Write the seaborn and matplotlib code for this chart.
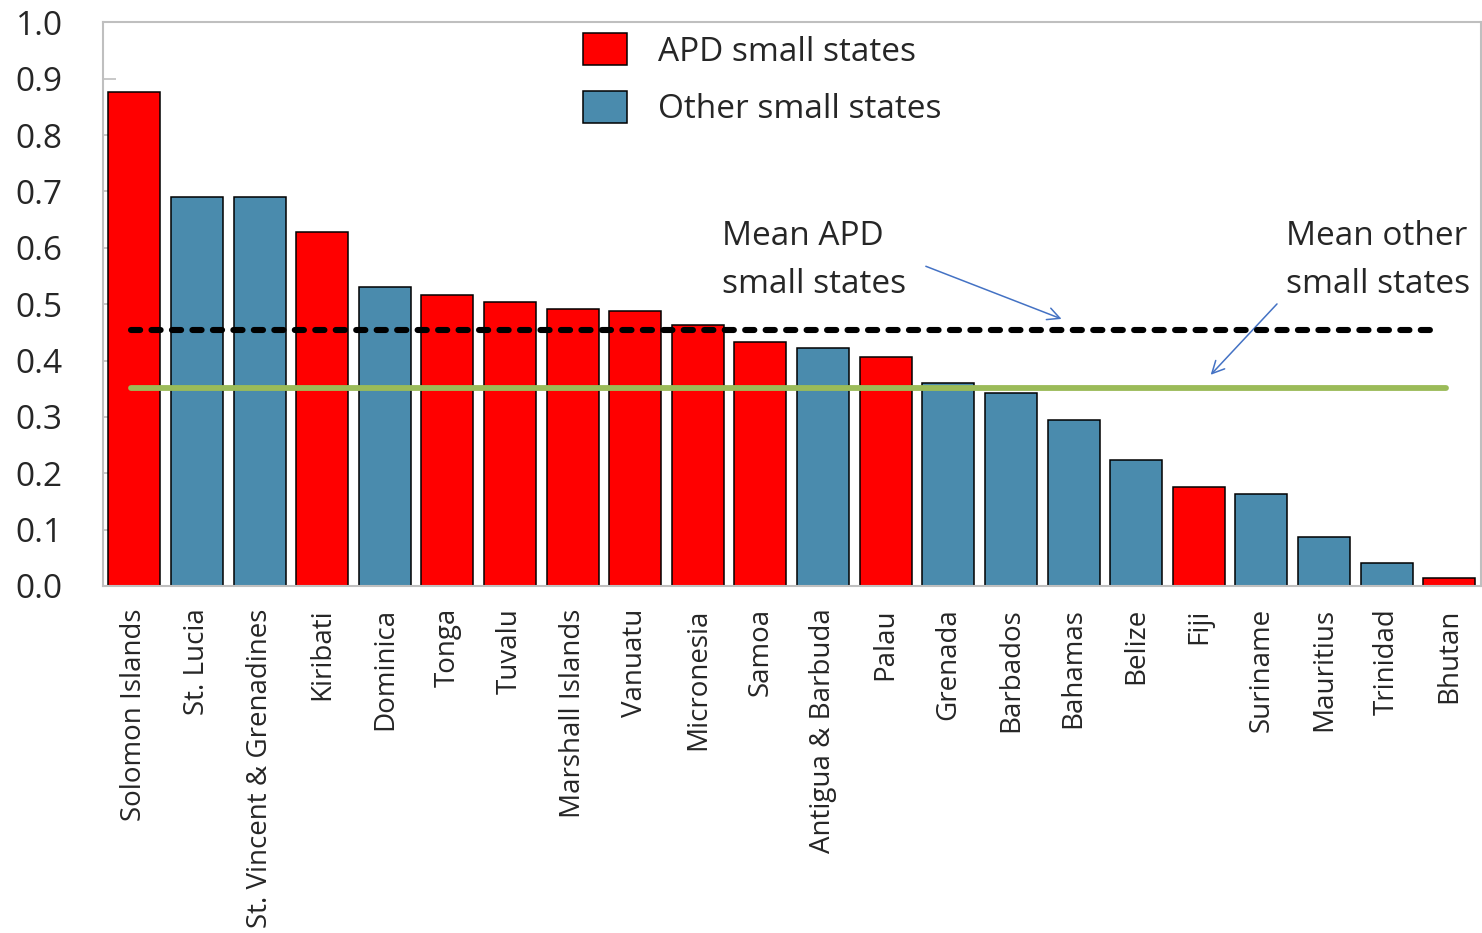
import numpy as np
import pandas as pd
import seaborn as sns
import matplotlib.pyplot as plt
from matplotlib.patches import Patch
from matplotlib.ticker import MultipleLocator

countries = ['Solomon Islands', 'St. Lucia', 'St. Vincent & Grenadines', 'Kiribati',
             'Dominica', 'Tonga', 'Tuvalu', 'Marshall Islands', 'Vanuatu', 'Micronesia',
             'Samoa', 'Antigua & Barbuda', 'Palau', 'Grenada', 'Barbados', 'Bahamas',
             'Belize', 'Fiji', 'Suriname', 'Mauritius', 'Trinidad', 'Bhutan']
values = [0.876, 0.691, 0.691, 0.628, 0.530, 0.516, 0.504, 0.491, 0.488, 0.463,
          0.433, 0.422, 0.406, 0.360, 0.342, 0.294, 0.223, 0.176, 0.163, 0.087,
          0.041, 0.014]
groups = ['APD', 'Other', 'Other', 'APD', 'Other', 'APD', 'APD', 'APD', 'APD', 'APD',
          'APD', 'Other', 'APD', 'Other', 'Other', 'Other', 'Other', 'APD', 'Other',
          'Other', 'Other', 'APD']
mean_apd = 0.454
mean_other = 0.351

red = '#FF0000'
blue = '#4A8BAD'
grey = '#BFBFBF'

df = pd.DataFrame({'country': countries, 'value': values, 'group': groups})

sns.set_style('white')
plt.rcParams['font.family'] = ['Open Sans', 'DejaVu Sans']

fig = plt.figure(figsize=(14.82, 9.33), dpi=100)
ax = fig.add_axes([0.0695, 0.372, 0.9295, 0.604])

sns.barplot(data=df, x='country', y='value', hue='group', palette={'APD': red, 'Other': blue},
            dodge=False, width=0.83, edgecolor='black', linewidth=1.1, saturation=1,
            legend=False, ax=ax)

# mean lines
ax.plot([-0.06, 20.86], [mean_apd, mean_apd], color='black', linewidth=4.4,
        linestyle=(0, (1.5, 1.85)), dash_capstyle='round', zorder=5)
ax.plot([-0.06, 20.95], [mean_other, mean_other], color='#9BBB59', linewidth=4.2,
        solid_capstyle='round', zorder=5)

ax.set_xlim(-0.5, 21.45)
ax.set_ylim(0, 1.0)
ax.yaxis.set_major_locator(MultipleLocator(0.1))
ax.yaxis.set_major_formatter(plt.FuncFormatter(lambda v, p: f'{v:.1f}'))

ax.set_xlabel('')
ax.set_ylabel('')
ax.set_xticks(range(len(countries)))
ax.set_xticklabels(countries, rotation=90, fontsize=20, va='top', ha='center')
ax.set_xticks(np.arange(-0.5, len(countries), 1), minor=True)
ax.tick_params(axis='x', which='major', length=0, pad=16)
ax.tick_params(axis='x', which='minor', direction='in', length=6, color=grey, width=1.2)
ax.tick_params(axis='y', direction='in', length=9, color=grey, width=1.2, labelsize=24,
               pad=29, left=True)

for s in ax.spines.values():
    s.set_color(grey)
    s.set_linewidth(1.5)
    s.set_visible(True)

handles = [Patch(facecolor=red, edgecolor='black', linewidth=1.1, label='APD small states'),
           Patch(facecolor=blue, edgecolor='black', linewidth=1.1, label='Other small states')]
ax.legend(handles=handles, loc='upper left', bbox_to_anchor=(0.339, 1.004), frameon=False,
          fontsize=24, handlelength=1.3, handleheight=1.1, handletextpad=0.95,
          labelspacing=0.67, borderaxespad=0)

arrow_style = dict(arrowstyle='->', color='#4472C4', lw=1.1, mutation_scale=22)
ax.text(9.38, 0.577, 'Mean APD\nsmall states', fontsize=24, va='center', ha='left',
        linespacing=1.6)
ax.annotate('', xy=(14.85, 0.472), xytext=(12.6, 0.569), arrowprops=arrow_style)
ax.text(18.4, 0.577, 'Mean other\nsmall states', fontsize=24, va='center', ha='left',
        linespacing=1.6)
ax.annotate('', xy=(17.16, 0.371), xytext=(18.28, 0.504), arrowprops=arrow_style)

fig.savefig('out.png', dpi=100)
